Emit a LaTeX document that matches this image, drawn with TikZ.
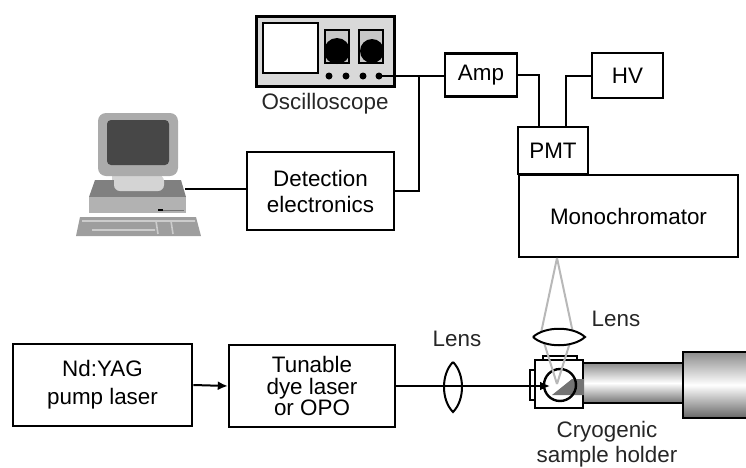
\documentclass[tikz,border=0pt]{standalone}
\usepackage{fontspec}
\setmainfont{Liberation Sans}
\usetikzlibrary{calc}
\usetikzlibrary{arrows.meta}
\usetikzlibrary{positioning}

\begin{document}
\begin{tikzpicture}[x=0.5pt, y=-0.5pt,
  font=\fontsize{11.2}{13}\selectfont,
  box/.style={rectangle, draw=black, line width=1.2pt, fill=white, align=center, inner sep=0pt},
  wire/.style={draw=black, line width=1pt},
  beam/.style={draw=black, line width=1pt, -{Latex[length=5pt, width=4.5pt]}},
  ray/.style={draw=black!28, line width=1pt},
  knob/.style={circle, fill=black, inner sep=0pt, minimum size=#1}]
\useasboundingbox (0,0) rectangle (746,467);

% computer
\fill [black!17] (112,176) rectangle (162,192);
\fill [black!50] (95,180) -- (181,180) -- (186,197) -- (89,197) -- cycle;
\fill [black!17, rounded corners=3pt] (114,175) rectangle (164,191);
\fill [black!30] (89,197) rectangle (186,213);
\fill [black] (158,209) rectangle (163,211);
\draw [black!55, line width=0.5pt] (163,210) -- (184,210);
\fill [black!38] (80,217) -- (196,217) -- (201,236) -- (76,236) -- cycle;
\draw [black!20, line width=0.8pt] (82,221) -- (195,221) (156,221) -- (158,234) (171,221) -- (173,234) (92,230) -- (155,230);
\fill [black!33, rounded corners=4pt] (98,113) rectangle (178,176);
\fill [black!72, rounded corners=2pt] (107,120) rectangle (169,165);
\node (pc) at (185,189) {};

% oscilloscope
\node [rectangle, draw=black, line width=1.5pt, fill=black!15, minimum width=69pt, minimum height=35pt] (osc) at (325,51) {};
\draw [line width=1.1pt, fill=white] (263,23) rectangle (318,73);
\draw [line width=0.8pt, fill=black!22] (325,30) rectangle (349,63);
\draw [line width=0.8pt, fill=black!22] (359,30) rectangle (383,63);
\node [knob=13pt] (k1) at (337,51) {};
\node [knob=12pt] (k2) at (372,51) {};
\node [knob=3.5pt] (d1) at (329,76) {};
\node [knob=3.5pt] (d2) at (346,76) {};
\node [knob=3.5pt] (d3) at (363,76) {};
\node [knob=3.5pt] (d4) at (379,76) {};
\node [text=black!85] (osclabel) at (325,104) {Oscilloscope};

% detection chain
\node [box, minimum width=73.5pt, minimum height=39pt] (det) at (320.5,191) {Detection\\electronics};
\node [box, minimum width=36pt, minimum height=21.5pt] (amp) at (481,75) {Amp};
\node [box, minimum width=35.5pt, minimum height=22.5pt] (hv) at (627.5,75.5) {HV};
\node [box, minimum width=35pt, minimum height=23.5pt] (pmt) at (553,150.5) {PMT};
\node [box, minimum width=109.5pt, minimum height=41pt] (mono) at (628.5,216) {Monochromator};
\coordinate (tap) at (419,76);
\draw [wire] (d4.center) -- (tap) -- (amp.west |- tap);
\draw [wire] (tap) |- (det.east);
\draw [wire] (pc.center) -- (det.west |- pc.center);
\draw [wire] (amp.east) -| ([xshift=11pt]pmt.north west);
\draw [wire] (hv.west) -| ([xshift=24.5pt]pmt.north west);

% lasers
\node [box, line width=1.4pt, minimum width=89.5pt, minimum height=41pt, font=\fontsize{11.2}{14}\selectfont] (yag) at (102.5,385) {Nd:YAG\\pump laser};
\node [box, minimum width=83pt, minimum height=41pt, font=\fontsize{11.2}{10.8}\selectfont] (tun) at (312,386) {Tunable\\dye laser\\or OPO};
\draw [beam] (yag.east) -- (tun.west);

% cryostat
\draw [line width=1.2pt, top color=black!45, bottom color=black!55, middle color=white] (583,363) rectangle (683,403);
\draw [line width=1.4pt, top color=black!45, bottom color=black!60, middle color=white] (683,352) rectangle (752,418);

% sample cell
\draw [line width=0.9pt, fill=white] (530,370) rectangle (535,400);
\draw [line width=0.9pt, fill=white] (543,356) rectangle (577,360);
\draw [line width=1pt, fill=white] (535,360) rectangle (583,408);
\fill [black!55] (552,395) -- (572,379) -- (584,379) -- (584,395) -- cycle;
\node [circle, draw=black, line width=1.2pt, minimum size=16pt, inner sep=0pt] (cell) at (560,385) {};
\coordinate (apex) at (557,258);
\coordinate (focus) at (557,384);
\draw [ray] (apex) -- (541,333) -- (focus);
\draw [ray] (apex) -- (573,333) -- (focus);

% lenses
\draw [line width=1pt, fill=white] (533,337) .. controls (545,326) and (573,326) .. (585,337) .. controls (573,348) and (545,348) .. (533,337);
\draw [line width=1pt] (453,362) .. controls (465,374) and (465,400) .. (453,412) .. controls (441,400) and (441,374) .. (453,362);
\coordinate (tip) at (550,386);
\draw [beam] (tun.east) -- (tip);

% labels
\node [text=black!85] (lens1) at (457,339) {Lens};
\node [text=black!85] (lens2) at (616,319) {Lens};
\node [text=black!85, align=center, font=\fontsize{11.2}{12.5}\selectfont] (cryo) at (607,444) {Cryogenic\\sample holder};
\end{tikzpicture}
\end{document}
